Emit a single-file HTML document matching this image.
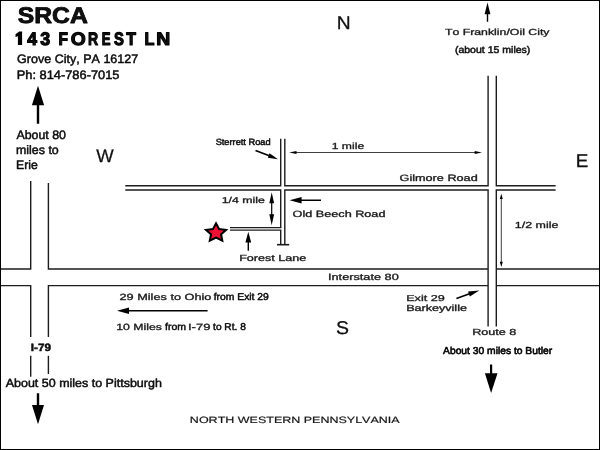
<!DOCTYPE html>
<html>
<head>
<meta charset="utf-8">
<title>SRCA Directions Map</title>
<style>
  html, body { margin: 0; padding: 0; background: #ffffff; }
  body { width: 600px; height: 450px; overflow: hidden; font-family: "Liberation Sans", sans-serif; }
  svg { display: block; position: absolute; left: 0; top: 0; filter: blur(0.3px); }
  text { font-family: "Liberation Sans", sans-serif; fill: #111; font-kerning: none; text-rendering: geometricPrecision; }
  .rd { stroke: #1c1c1c; stroke-width: 1.4; fill: none; stroke-linecap: butt; }
  .thin { stroke: #2a2a2a; stroke-width: 0.9; fill: none; }
  .ar { fill: #000; stroke: none; }
  .lbl { fill: #2b2b2b; font-size: 9px; }
</style>
</head>
<body>
<svg width="600" height="450" viewBox="0 0 600 450">
  <rect x="0" y="0" width="600" height="450" fill="#ffffff"/>

  <!-- ===== ROADS ===== -->
  <g class="rd">
    <!-- I-79 (vertical, left) -->
    <path d="M30.7 181 V269 H1"/>
    <path d="M48.4 183 V269 H488.1"/>
    <path d="M1 285.6 H30.7 V337"/>
    <path d="M488.1 285.6 H48.4 V337"/>
    <path d="M30.7 355.8 V376.7"/>
    <path d="M48.4 355.8 V374"/>
    <!-- I-80 east of Route 8 -->
    <path d="M496.3 269 H599"/>
    <path d="M496.3 285.6 H599"/>

    <!-- Gilmore Road -->
    <path d="M125.3 185.7 H280.7 V138.7"/>
    <path d="M284.8 138.7 V185.7 H488.1 V75.8"/>
    <path d="M496.3 75.8 V185.7 H555.6"/>
    <path d="M125.3 190 H280.7 V227.6"/>
    <path d="M230 227.6 H281.4" stroke-width="1.1"/>
    <path d="M230 230.1 H280" stroke-width="1.1"/>
    <path d="M280.7 229.6 V244.7"/>
    <path d="M284.8 244.7 V190 H488.1 V326.4"/>
    <path d="M555.6 190 H496.3 V326.4"/>
    <!-- dead-end bar -->
    <path d="M277 244.7 H289.2" stroke-width="1.6"/>
  </g>

  <!-- ===== THIN DIMENSION ARROWS ===== -->
  <!-- 1 mile -->
  <path class="thin" d="M293 152.5 H478"/>
  <path class="ar" d="M289.2 152.5 L296.5 150.9 L296.5 154.1 Z"/>
  <path class="ar" d="M482 152.5 L474.7 150.9 L474.7 154.1 Z"/>
  <!-- 1/2 mile -->
  <path class="thin" d="M501.3 197 V263"/>
  <path class="ar" d="M501.3 193.7 L499.8 199 L502.8 199 Z"/>
  <path class="ar" d="M501.3 267 L499.8 261.7 L502.8 261.7 Z"/>

  <!-- ===== SOLID ARROWS ===== -->
  <!-- big up arrow (Erie) -->
  <path class="ar" d="M38 85.8 L44.1 105.3 L39.2 105.3 L39.2 123.8 L36.8 123.8 L36.8 105.3 L31.9 105.3 Z"/>
  <!-- big down arrow (Pittsburgh) -->
  <path class="ar" d="M38 424.2 L44 405 L39.2 405 L39.2 393.3 L36.8 393.3 L36.8 405 L32 405 Z"/>
  <!-- down arrow (Butler) -->
  <path class="ar" d="M491.1 393 L497.5 373.2 L492.2 373.2 L492.2 364.5 L490 364.5 L490 373.2 L484.9 373.2 Z"/>
  <!-- small up arrow (Franklin) -->
  <path class="ar" d="M487.5 2.5 L490.4 14.2 L488.2 14.2 L488.2 21.7 L486.8 21.7 L486.8 14.2 L484.6 14.2 Z"/>
  <!-- 1/4 mile double arrow -->
  <path class="ar" d="M271.7 192.3 L274.1 203.3 L272.3 203.3 L272.3 214.3 L274.1 214.3 L271.7 225.3 L269.3 214.3 L271.1 214.3 L271.1 203.3 L269.3 203.3 Z"/>
  <!-- Old Beech Road arrow -->
  <path class="ar" d="M289.6 200.2 L301.6 196.9 L301.6 199.5 L321 199.5 L321 200.9 L301.6 200.9 L301.6 203.5 Z"/>
  <!-- Forest Lane arrow -->
  <path class="ar" d="M248.3 231.7 L251.2 242.5 L249 242.5 L249 250.8 L247.6 250.8 L247.6 242.5 L245.4 242.5 Z"/>
  <!-- Ohio arrow -->
  <path class="ar" d="M117 310.7 L129 307.4 L129 310 L207.6 310 L207.6 311.4 L129 311.4 L129 314 Z"/>
  <!-- Sterrett Road arrow -->
  <g transform="translate(278 159.2) rotate(21.1)">
    <path class="ar" d="M0 0 L-10 -2.4 L-10 -0.8 L-24.1 -0.8 L-24.1 0.8 L-10 0.8 L-10 2.4 Z"/>
  </g>
  <!-- Exit 29 arrow -->
  <g transform="translate(479.3 290.4) rotate(-19.4)">
    <path class="ar" d="M0 0 L-11 -2.7 L-11 -0.8 L-24.3 -0.8 L-24.3 0.8 L-11 0.8 L-11 2.7 Z"/>
  </g>

  <!-- ===== STAR ===== -->
  <g transform="translate(216.05 232.9) scale(1.11 1)">
    <path d="M0.00 -9.56 L2.79 -3.84 L9.09 -2.95 L4.52 1.47 L5.62 7.73 L0.00 4.75 L-5.62 7.73 L-4.52 1.47 L-9.09 -2.95 L-2.79 -3.84 Z" fill="#ee1133" stroke="#000" stroke-width="1.9" stroke-linejoin="miter" stroke-miterlimit="10"/>
  </g>

  <!-- ===== HEADER TEXT ===== -->
  <text transform="translate(17.69 23) scale(1.092 1)" font-size="22.67" font-weight="700" fill="#000" stroke="#000" stroke-width="0.8" stroke-linejoin="round">SRCA</text>
  <path d="M22.1 31.6 V45 H17.9 V36.2 L15.5 37.1 V34.2 L19.2 31.6 Z" fill="#000"/>
  <text transform="translate(27.28 45) scale(0.974 1)" font-size="18.02" font-weight="700" fill="#000" stroke="#000" stroke-width="1.1" stroke-linejoin="round">4</text>
  <text transform="translate(40.14 45) scale(0.993 1)" font-size="18.02" font-weight="700" fill="#000" stroke="#000" stroke-width="1.1" stroke-linejoin="round">3</text>
  <text transform="translate(58.51 45) scale(0.864 1)" font-size="18.02" font-weight="700" fill="#000" stroke="#000" stroke-width="1.1" stroke-linejoin="round">F</text>
  <text transform="translate(70.76 45) scale(1.070 1)" font-size="18.02" font-weight="700" fill="#000" stroke="#000" stroke-width="1.1" stroke-linejoin="round">O</text>
  <text transform="translate(88.11 45) scale(0.778 1)" font-size="18.02" font-weight="700" fill="#000" stroke="#000" stroke-width="1.1" stroke-linejoin="round">R</text>
  <text transform="translate(101.67 45) scale(0.732 1)" font-size="18.02" font-weight="700" fill="#000" stroke="#000" stroke-width="1.1" stroke-linejoin="round">E</text>
  <text transform="translate(114.12 45) scale(0.824 1)" font-size="18.02" font-weight="700" fill="#000" stroke="#000" stroke-width="1.1" stroke-linejoin="round">S</text>
  <text transform="translate(126.37 45) scale(0.886 1)" font-size="18.02" font-weight="700" fill="#000" stroke="#000" stroke-width="1.1" stroke-linejoin="round">T</text>
  <text transform="translate(144.46 45) scale(0.908 1)" font-size="18.02" font-weight="700" fill="#000" stroke="#000" stroke-width="1.1" stroke-linejoin="round">L</text>
  <text transform="translate(156.25 45) scale(1.076 1)" font-size="18.02" font-weight="700" fill="#000" stroke="#000" stroke-width="1.1" stroke-linejoin="round">N</text>
  <text transform="translate(17.09 63) scale(1.021 1)" font-size="12.28" fill="#000" stroke="#000" stroke-width="0.45" stroke-linejoin="round">Grove City, PA 16127</text>
  <text transform="translate(16.67 79) scale(1.047 1)" font-size="12.28" fill="#000" stroke="#000" stroke-width="0.45" stroke-linejoin="round">Ph: 814-786-7015</text>
  <text transform="translate(16.40 139) scale(1.010 1)" font-size="12.28" fill="#000" stroke="#000" stroke-width="0.45" stroke-linejoin="round">About 80</text>
  <text transform="translate(16.00 154) scale(1.011 1)" font-size="12.28" fill="#000" stroke="#000" stroke-width="0.45" stroke-linejoin="round">miles to</text>
  <text transform="translate(16.02 169) scale(0.998 1)" font-size="12.28" fill="#000" stroke="#000" stroke-width="0.45" stroke-linejoin="round">Erie</text>
  <text transform="translate(336.85 29) scale(1.038 1)" font-size="18.53" fill="#000" stroke="#000" stroke-width="0.25" stroke-linejoin="round">N</text>
  <text transform="translate(96.24 162) scale(1.016 1)" font-size="18.24" fill="#000" stroke="#000" stroke-width="0.25" stroke-linejoin="round">W</text>
  <text transform="translate(575.87 167) scale(1.020 1)" font-size="18.53" fill="#000" stroke="#000" stroke-width="0.25" stroke-linejoin="round">E</text>
  <text transform="translate(336.04 334) scale(1.055 1)" font-size="18.53" fill="#000" stroke="#000" stroke-width="0.25" stroke-linejoin="round">S</text>
  <text transform="translate(215.63 145) scale(1.027 1)" font-size="9.01" fill="#111" stroke="#111" stroke-width="0.5" stroke-linejoin="round">Sterrett Road</text>
  <text transform="translate(331.74 149) scale(1.378 1)" font-size="8.82" fill="#262626" stroke="#262626" stroke-width="0.33" stroke-linejoin="round">1 mile</text>
  <text transform="translate(399.53 181) scale(1.393 1)" font-size="9.11" fill="#262626" stroke="#262626" stroke-width="0.33" stroke-linejoin="round">Gilmore Road</text>
  <text transform="translate(221.73 203) scale(1.445 1)" font-size="8.53" fill="#262626" stroke="#262626" stroke-width="0.33" stroke-linejoin="round">1/4 mile</text>
  <text transform="translate(292.56 217) scale(1.392 1)" font-size="9.11" fill="#262626" stroke="#262626" stroke-width="0.33" stroke-linejoin="round">Old Beech Road</text>
  <text transform="translate(239.13 261) scale(1.429 1)" font-size="8.82" fill="#262626" stroke="#262626" stroke-width="0.33" stroke-linejoin="round">Forest Lane</text>
  <text transform="translate(327.99 280) scale(1.400 1)" font-size="9.11" fill="#262626" stroke="#262626" stroke-width="0.33" stroke-linejoin="round">Interstate 80</text>
  <text transform="translate(406.13 301) scale(1.484 1)" font-size="8.53" fill="#262626" stroke="#262626" stroke-width="0.33" stroke-linejoin="round">Exit 29</text>
  <text transform="translate(406.13 311) scale(1.427 1)" font-size="8.82" fill="#262626" stroke="#262626" stroke-width="0.33" stroke-linejoin="round">Barkeyville</text>
  <text transform="translate(472.13 335) scale(1.432 1)" font-size="8.82" fill="#262626" stroke="#262626" stroke-width="0.33" stroke-linejoin="round">Route 8</text>
  <text transform="translate(514.82 228) scale(1.410 1)" font-size="8.82" fill="#262626" stroke="#262626" stroke-width="0.33" stroke-linejoin="round">1/2 mile</text>
  <text transform="translate(444.89 35) scale(1.396 1)" font-size="8.82" fill="#262626" stroke="#262626" stroke-width="0.33" stroke-linejoin="round">To Franklin/Oil City</text>
  <text transform="translate(454.90 53) scale(1.081 1)" font-size="9.74" fill="#111" stroke="#111" stroke-width="0.5" stroke-linejoin="round">(about 15 miles)</text>
  <text transform="translate(119.53 300) scale(1.417 1)" font-size="8.97" fill="#262626" stroke="#262626" stroke-width="0.33" stroke-linejoin="round">29 Miles to Ohio</text>
  <text transform="translate(213.68 300) scale(1.039 1)" font-size="9.96" fill="#000" stroke="#000" stroke-width="0.45" stroke-linejoin="round">from Exit 29</text>
  <text transform="translate(116.23 330) scale(1.367 1)" font-size="8.97" fill="#262626" stroke="#262626" stroke-width="0.33" stroke-linejoin="round">10 Miles</text>
  <text transform="translate(165.08 330) scale(1.054 1)" font-size="9.96" fill="#000" stroke="#000" stroke-width="0.45" stroke-linejoin="round">from</text>
  <text transform="translate(187.96 330) scale(1.456 1)" font-size="8.97" fill="#262626" stroke="#262626" stroke-width="0.33" stroke-linejoin="round">I-79</text>
  <text transform="translate(213.07 330) scale(1.020 1)" font-size="9.96" fill="#000" stroke="#000" stroke-width="0.45" stroke-linejoin="round">to Rt. 8</text>
  <text transform="translate(30.77 351) scale(1.106 1)" font-size="10.61" font-weight="700" fill="#111" stroke="#111" stroke-width="0.5" stroke-linejoin="round">I-79</text>
  <text transform="translate(5.70 387) scale(1.054 1)" font-size="11.85" fill="#000" stroke="#000" stroke-width="0.45" stroke-linejoin="round">About 50 miles to Pittsburgh</text>
  <text transform="translate(443.08 354) scale(1.026 1)" font-size="10.03" fill="#000" stroke="#000" stroke-width="0.6" stroke-linejoin="round">About 30 miles to Butler</text>
  <text transform="translate(189.87 423) scale(1.365 1)" font-size="9.16" fill="#262626" stroke="#262626" stroke-width="0.2" stroke-linejoin="round">NORTH WESTERN PENNSYLVANIA</text>


  <!-- compass -->

  <!-- ===== MAP LABELS ===== -->



  <!-- ===== OUTER BORDER ===== -->
  <rect x="0.5" y="0.5" width="599" height="449" fill="none" stroke="#000" stroke-width="1"/>
</svg>
</body>
</html>
